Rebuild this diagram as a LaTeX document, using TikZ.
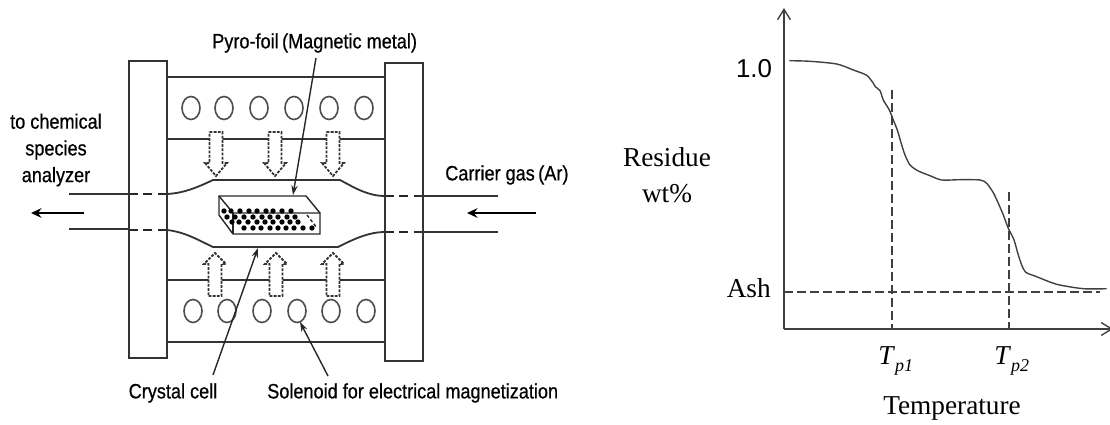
\documentclass[tikz,border=0pt]{standalone}
\usepackage{fontspec}
\setmainfont{Liberation Serif}
\setsansfont{Liberation Sans}
\newfontfamily\scanfont[FakeStretch=0.87,FakeBold=0.6]{Liberation Sans}
\usetikzlibrary{arrows.meta}
\tikzset{
  scanline/.style={line width=0.045cm,draw=black!80},
  scandash/.style={line width=0.05cm,draw=black!85,dash pattern=on 0.22cm off 0.14cm},
  thinline/.style={line width=0.035cm,draw=black!85},
  leader/.style={line width=0.035cm,draw=black!85,-{Stealth[length=0.24cm,width=0.16cm]}},
  flow/.style={line width=0.07cm,draw=black,-{Stealth[length=0.26cm,width=0.24cm]}},
  blockarrow/.style={line width=0.045cm,draw=black!80,fill=white,dash pattern=on 0.07cm off 0.035cm},
  coil/.style={line width=0.04cm,draw=black!70},
  chartline/.style={line width=0.035cm,draw=black!75},
  dropline/.style={line width=0.035cm,draw=black!75,dash pattern=on 0.225cm off 0.1cm},
  sanslabel/.style={font=\scanfont\fontsize{14.8}{19}\selectfont,inner sep=0pt,align=center},
  seriflabel/.style={font=\rmfamily\fontsize{19.4}{26}\selectfont,inner sep=0pt,align=center}
}
\begin{document}
\begin{tikzpicture}[x=0.025cm,y=-0.025cm]
            \useasboundingbox (0,0) rectangle (1110,425);
            \clip (0,0) rectangle (1110,425);

            % Drawing tube walls through the flanges
            \draw [scanline] (69,194) -- (129,194);%
            \draw [scandash] (129,194) -- (167,194);%
            \draw [scanline] (167,194) .. controls (185,193) and (198,187) .. (213,180) -- (340,180) .. controls (355,188) and (368,196) .. (385,196);%
            \draw [scandash] (385,196) -- (418,196);%
            \draw [scanline] (418,196) -- (498,196);%
            \draw [scanline] (69,229) -- (129,229);%
            \draw [scandash] (129,230) -- (167,230);%
            \draw [scanline] (167,230) .. controls (185,232) and (198,240) .. (213,247) -- (338,247) .. controls (352,240) and (368,232) .. (385,232);%
            \draw [scandash] (385,232) -- (418,232);%
            \draw [scanline] (418,232) -- (498,232);%

            % Drawing flanges
            \draw [scanline] (129,61) rectangle (167,358);%
            \draw [scanline] (385,63) rectangle (423,361);%

            % Drawing solenoid housing
            \draw [scanline] (167,77) -- (385,77);%
            \draw [scanline] (167,139) -- (385,139);%
            \draw [scanline] (167,280) -- (385,280);%
            \draw [scanline] (167,342) -- (385,342);%

            % Drawing upper row of windings
            \draw [coil] (191,108) ellipse (9 and 11.5);%
            \draw [coil] (224,108) ellipse (9 and 11.5);%
            \draw [coil] (259,108) ellipse (9 and 11.5);%
            \draw [coil] (294,108) ellipse (9 and 11.5);%
            \draw [coil] (329,108) ellipse (9 and 11.5);%
            \draw [coil] (364,108) ellipse (9 and 11.5);%

            % Drawing lower row of windings
            \draw [coil] (193,311) ellipse (9 and 11.5);%
            \draw [coil] (227,311) ellipse (9 and 11.5);%
            \draw [coil] (262,311) ellipse (9 and 11.5);%
            \draw [coil] (297,311) ellipse (9 and 11.5);%
            \draw [coil] (331,311) ellipse (9 and 11.5);%
            \draw [coil] (366,311) ellipse (9 and 11.5);%

            % Drawing downward field arrows
            \draw [blockarrow] (209.5,132) -- (222.5,132) -- (222.5,163) -- (227,163) -- (216,176) -- (205,163) -- (209.5,163) -- cycle;%
            \draw [blockarrow] (268.5,132) -- (281.5,132) -- (281.5,163) -- (286,163) -- (275,176) -- (264,163) -- (268.5,163) -- cycle;%
            \draw [blockarrow] (326.5,132) -- (339.5,132) -- (339.5,163) -- (344,163) -- (333,176) -- (322,163) -- (326.5,163) -- cycle;%

            % Drawing upward field arrows
            \draw [blockarrow] (208.5,296) -- (221.5,296) -- (221.5,264) -- (226,264) -- (215,253) -- (204,264) -- (208.5,264) -- cycle;%
            \draw [blockarrow] (269.5,296) -- (282.5,296) -- (282.5,264) -- (287,264) -- (276,253) -- (265,264) -- (269.5,264) -- cycle;%
            \draw [blockarrow] (326.5,296) -- (339.5,296) -- (339.5,264) -- (344,264) -- (333,253) -- (322,264) -- (326.5,264) -- cycle;%

            % Drawing foil block
            \draw [thinline] (219,196) -- (306,196) -- (320,213) -- (320,234) -- (233,234) -- (219,215) -- cycle;%
            \draw [thinline] (219,196) -- (233,213) -- (320,213);%
            \draw [thinline] (233,213) -- (233,234);%
            \draw [thinline,dash pattern=on 0.08cm off 0.06cm] (307,215) -- (317,228);%

            % Marking particles in the foil
            \fill (224,211) circle (2.7) (231,211) circle (2.7) (240,211) circle (2.7) (249,211) circle (2.7) (257,211) circle (2.7) (266,211) circle (2.7) (273,211) circle (2.7) (282,211) circle (2.7) (291,211) circle (2.7);%
            \fill (227,217) circle (2.7) (235,217) circle (2.7) (244,217) circle (2.7) (253,217) circle (2.7) (262,217) circle (2.7) (270,217) circle (2.7) (278,217) circle (2.7) (287,217) circle (2.7) (295,217) circle (2.7);%
            \fill (232,222) circle (2.7) (239,222) circle (2.7) (248,222) circle (2.7) (257,222) circle (2.7) (265,222) circle (2.7) (273,222) circle (2.7) (282,222) circle (2.7) (290,222) circle (2.7) (298,222) circle (2.7);%
            \fill (244,228) circle (2.7) (253,228) circle (2.7) (261,228) circle (2.7) (270,228) circle (2.7) (278,228) circle (2.7) (286,228) circle (2.7) (294,228) circle (2.7) (303,228) circle (2.7) (312,228) circle (2.7);%

            % Drawing gas flow arrows
            \coordinate (outTail) at (84,213);%
            \coordinate (outTip) at (31,213);%
            \coordinate (inTail) at (536,213);%
            \coordinate (inTip) at (467,213);%
            \draw [flow] (outTail) -- (outTip);%
            \draw [flow] (inTail) -- (inTip);%

            % Labels of the apparatus
            \node [sanslabel,anchor=west] (foilLabel) at (212,43) {Pyro-foil\,(Magnetic metal)};%
            \node [sanslabel] (analyzerLabel) at (56,150) {to chemical\\species\\analyzer};%
            \node [sanslabel,anchor=west] (gasLabel) at (445,175) {Carrier gas\,(Ar)};%
            \node [sanslabel] (cellLabel) at (173,393) {Crystal cell};%
            \node [sanslabel,anchor=west] (coilLabel) at (267,393) {Solenoid for electrical magnetization};%

            % Drawing leaders
            \coordinate (foilTail) at (316,58);%
            \coordinate (foilTip) at (293,195);%
            \coordinate (cellTail) at (213,375);%
            \coordinate (cellTip) at (258,248);%
            \coordinate (coilTail) at (328,376);%
            \coordinate (coilTip) at (300,322);%
            \draw [leader] (foilTail) -- (foilTip);%
            \draw [leader] (cellTail) -- (cellTip);%
            \draw [leader] (coilTail) -- (coilTip);%

            % Drawing chart axes
            \coordinate (chartOrigin) at (784,329);%
            \coordinate (yEnd) at (784,8);%
            \coordinate (xEnd) at (1113,329);%
            \draw [chartline,-{Straight Barb[length=0.26cm,width=0.32cm]}] (chartOrigin) -- (yEnd);%
            \draw [chartline,-{Straight Barb[length=0.26cm,width=0.32cm]}] (chartOrigin) -- (xEnd);%

            % Drawing reference lines
            \draw [dropline] (892,90) -- (892,329);%
            \draw [dropline] (1009,192) -- (1009,329);%
            \draw [dropline] (784,292) -- (1100,292);%

            % Drawing residue curve
            \draw [chartline,line join=round] plot [smooth,tension=0.45] coordinates {(789.3,60.7) (810,61.3) (836.7,64) (853.3,70) (866.7,75.3) (873.3,83.3) (875.3,86.7) (880,90.7) (883.3,100) (889.3,110) (893.3,120) (897.3,130) (901.7,145) (905,155) (910,165) (918.3,171) (930,175.7) (941.7,180) (960,179.7) (980,180) (986.7,183.3) (993.3,192.7) (998.3,203.3) (1003.3,215) (1008.3,228.3) (1014,240) (1018.3,255) (1021.7,265) (1025.7,272.3) (1036.7,276.7) (1056.7,284.3) (1083.3,288.7) (1106.7,288.7)};%

            % Labels of the chart
            \node [sanslabel,font=\sffamily\fontsize{18.4}{22}\selectfont] (oneLabel) at (754,69) {1.0};%
            \node [seriflabel] (residueLabel) at (667,175) {Residue\\wt\%};%
            \node [seriflabel,anchor=east] (ashLabel) at (771,288) {Ash};%
            \node [seriflabel,anchor=base west] (firstLabel) at (878,365) {\textit{T}\raisebox{-0.55ex}{\fontsize{12.8}{14}\selectfont\textit{p1}}};%
            \node [seriflabel,anchor=base west] (secondLabel) at (994,365) {\textit{T}\raisebox{-0.55ex}{\fontsize{12.8}{14}\selectfont\textit{p2}}};%
            \node [seriflabel] (tempLabel) at (952,408) {Temperature};%
        \end{tikzpicture}
\end{document}
